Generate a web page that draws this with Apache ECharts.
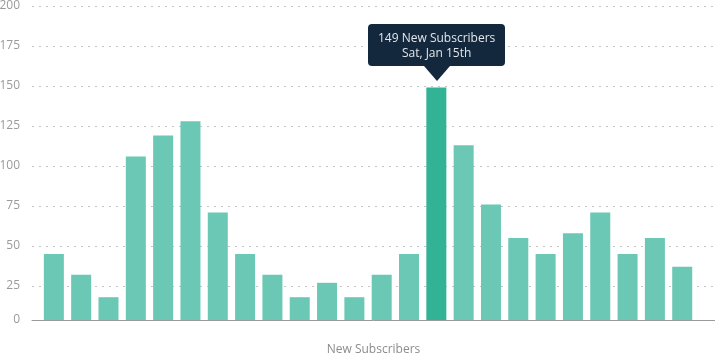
<!DOCTYPE html>
<html>
<head>
<meta charset="utf-8">
<script src="https://cdn.jsdelivr.net/npm/echarts@6/dist/echarts.min.js"></script>
<style>
html,body{margin:0;padding:0;background:#fff;}
#chart{width:715px;height:355px;}
</style>
</head>
<body>
<div id="chart"></div>
<script>
// ---- data ----
var dates = ['Sat, Jan 1st','Sun, Jan 2nd','Mon, Jan 3rd','Tue, Jan 4th','Wed, Jan 5th','Thu, Jan 6th',
  'Fri, Jan 7th','Sat, Jan 8th','Sun, Jan 9th','Mon, Jan 10th','Tue, Jan 11th','Wed, Jan 12th',
  'Thu, Jan 13th','Fri, Jan 14th','Sat, Jan 15th','Sun, Jan 16th','Mon, Jan 17th','Tue, Jan 18th',
  'Wed, Jan 19th','Thu, Jan 20th','Fri, Jan 21st','Sat, Jan 22nd','Sun, Jan 23rd','Mon, Jan 24th'];
var subscribers = [45, 32, 18, 106, 119, 128, 71, 45, 32, 18, 27, 18, 32, 45, 149, 113, 76, 55, 45, 58, 71, 45, 55, 37];
var yTicks = [0, 25, 50, 75, 100, 125, 150, 175, 200];
var seriesName = 'New Subscribers';
var highlightIndex = 14;

// axis floor of the original plot (the "0" baseline sits slightly above true zero)
var yFloor = 3.75;

var chart = echarts.init(document.getElementById('chart'));
var FONT = '"Open Sans", sans-serif';

var points = subscribers.map(function (v, i) { return [i, v]; });
var tickPositions = yTicks.map(function (t) { return t === 0 ? yFloor : t; });

chart.setOption({
  animation: false,
  textStyle: { fontFamily: FONT },
  grid: { left: 32, right: 0, top: 6, bottom: 35, containLabel: false, outerBoundsMode: 'none' },
  xAxis: {
    type: 'value',
    min: -0.8,
    max: subscribers.length + 0.2,
    name: seriesName,
    nameLocation: 'middle',
    nameGap: 24,
    nameTextStyle: { color: '#8c8c8c', fontSize: 12, fontFamily: FONT },
    axisLine: { show: true, onZero: false, lineStyle: { color: '#9a9a9a', width: 1 } },
    axisTick: { show: false },
    axisLabel: { show: false },
    splitLine: { show: false }
  },
  yAxis: {
    type: 'value',
    min: yFloor,
    max: 200,
    axisLine: { show: false },
    axisTick: { show: false, customValues: tickPositions },
    axisLabel: {
      customValues: tickPositions,
      color: '#9a9a9a', fontSize: 12, fontFamily: FONT, margin: 12,
      formatter: function (v) { return v < yTicks[1] ? String(yTicks[0]) : String(v); }
    },
    splitLine: { show: true, lineStyle: { color: '#c4c4c4', type: [2, 5], width: 1 } }
  },
  tooltip: {
    trigger: 'item',
    triggerOn: 'none',
    alwaysShowContent: true,
    transitionDuration: 0,
    backgroundColor: '#13283d',
    borderWidth: 0,
    padding: [6, 10],
    extraCssText: 'box-shadow:none;border-radius:4px;',
    textStyle: { color: '#e3e6ea', fontSize: 12, fontFamily: FONT },
    position: function (point, params, dom, rect, size) {
      return [rect.x + rect.width / 2 - size.contentSize[0] / 2, rect.y - size.contentSize[1] - 22];
    },
    formatter: function (p) {
      return '<div style="text-align:center;line-height:15px;font-family:' + FONT.replace(/"/g, "'") + ';">' +
        p.value[1] + ' ' + seriesName + '<br/>' + dates[p.value[0]] + '</div>' +
        '<div style="position:absolute;left:50%;bottom:-15px;margin-left:-13px;width:0;height:0;' +
        'border-left:13px solid transparent;border-right:13px solid transparent;border-top:15px solid #13283d;"></div>';
    }
  },
  series: [{
    type: 'bar',
    name: seriesName,
    data: points,
    barWidth: 20,
    itemStyle: { color: '#6ac8b4' },
    emphasis: { focus: 'none', itemStyle: { color: '#33b395' } }
  }]
});

chart.dispatchAction({ type: 'highlight', seriesIndex: 0, dataIndex: highlightIndex });
chart.dispatchAction({ type: 'showTip', seriesIndex: 0, dataIndex: highlightIndex });
</script>
</body>
</html>
